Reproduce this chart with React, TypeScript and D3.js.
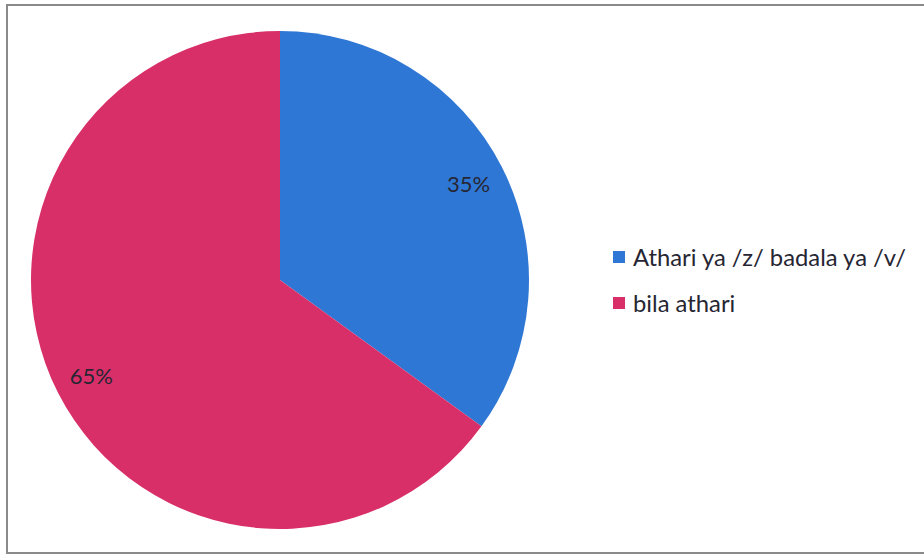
import React from "react";
import * as d3 from "d3";

const categories = ["Athari ya /z/ badala ya /v/", "bila athari"];
const values = [35, 65];
const labels = ["35%", "65%"];
const colors = ["#2f77d5", "#d92f69"];

export default function App() {
  const W = 924, H = 559;
  const cx = 280, cy = 280, R = 249;
  const pie = d3.pie<number>().sort(null).value((d) => d)(values);
  const arc = d3.arc<d3.PieArcDatum<number>>().innerRadius(0).outerRadius(R);
  const labelArc = d3.arc<d3.PieArcDatum<number>>().innerRadius(R * 0.85).outerRadius(R * 0.85);
  return (
    <svg width={W} height={H} style={{ position: "absolute", left: 0, top: 0, background: "#fff" }}
      fontFamily="Lato, 'Open Sans', sans-serif">
      <rect x={7} y={5} width={930} height={548} fill="#fff" stroke="#8a8a8a" strokeWidth={2} />
      <g transform={`translate(${cx},${cy})`}>
        {pie.map((p, i) => (
          <path key={i} d={arc(p) || ""} fill={colors[i]} />
        ))}
        {pie.map((p, i) => {
          const [x, y] = labelArc.centroid(p);
          return (
            <text key={i} x={x} y={y} dy="0.35em" textAnchor="middle" fontSize={22} fill="#262633">
              {labels[i]}
            </text>
          );
        })}
      </g>
      {categories.map((c, i) => (
        <g key={i} transform={`translate(613,${251 + i * 46})`}>
          <rect width={12} height={12} fill={colors[i]} />
          <text x={20} y={6} dy="0.36em" fontSize={23.8} fill="#262633">{c}</text>
        </g>
      ))}
    </svg>
  );
}
